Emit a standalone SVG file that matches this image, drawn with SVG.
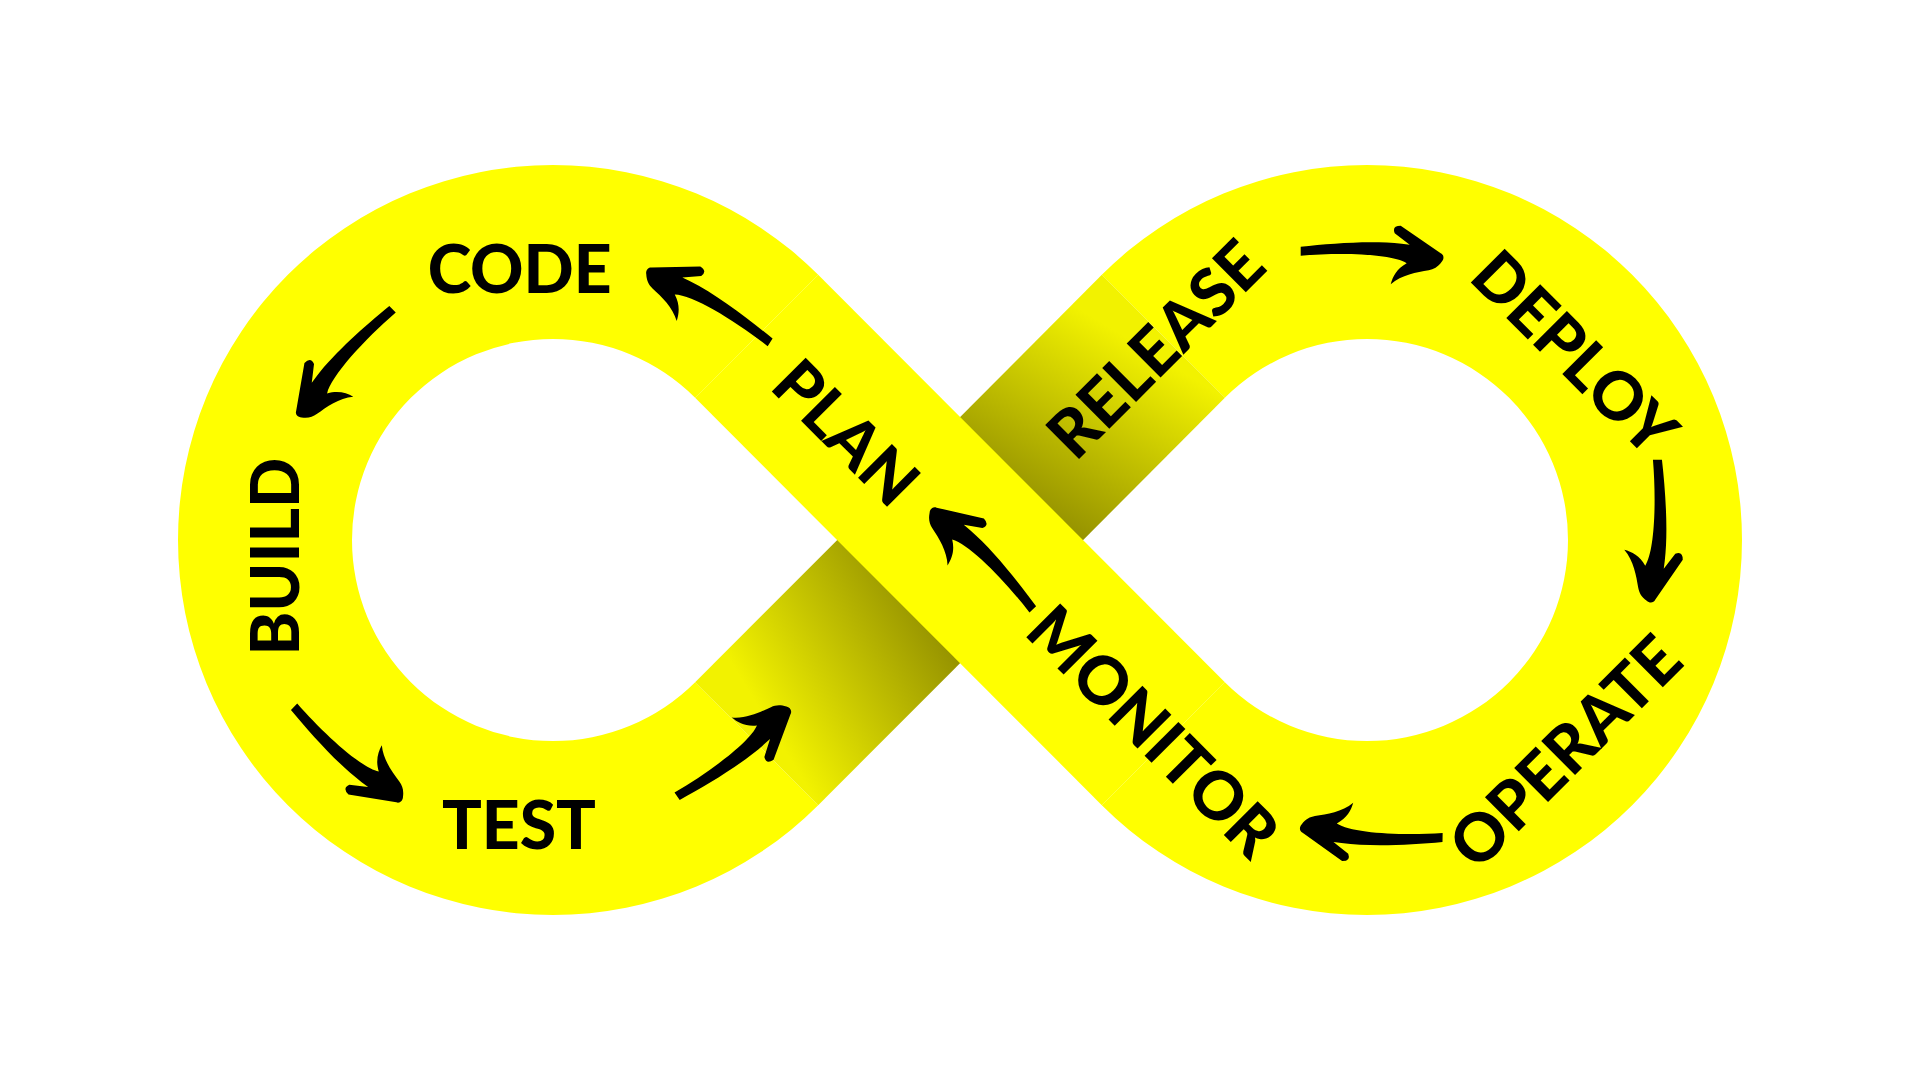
<svg xmlns="http://www.w3.org/2000/svg" xmlns:xlink="http://www.w3.org/1999/xlink" width="1920" height="1080" viewBox="0 0 1920 1080">
<style>
.lbl{font-family:Lato,"Liberation Sans",sans-serif;font-weight:900;font-size:66px;fill:#000;text-anchor:middle}
.band{fill:#ffff00}
.arrow{fill:#000}
</style>
<defs>
<linearGradient id="shadeLL" gradientUnits="userSpaceOnUse" x1="956.7" y1="663.3" x2="792.4" y2="763.3">
<stop offset="0" stop-color="#979400"/>
<stop offset="1" stop-color="#f2f200"/>
</linearGradient>
<linearGradient id="shadeUR" gradientUnits="userSpaceOnUse" x1="1083.3" y1="536.7" x2="1183.3" y2="372.4">
<stop offset="0" stop-color="#979400"/>
<stop offset="1" stop-color="#f2f200"/>
</linearGradient>
<path id="arr" d="M -141,-10 C -110,-13.5 -70,-16.5 -40,-13 L -32,-12 L -47,-23.5 Q -50,-31 -41,-31 L -1,-3.5 C 2.5,-2 2.5,2.5 0,5 C -4,10.5 -8,12.5 -13,13.5 C -25,15.5 -40,18 -51,27.5 C -49,20 -45,12 -35,6.5 C -50,-3 -100,-4.5 -141,-1 Z"/>
</defs>
<rect width="1920" height="1080" fill="#ffffff"/>
<g id="infinity">
<path class="band" d="M 818.17,274.83 A 375 375 0 1 0 818.17,805.17 L 695.13,682.13 A 201 201 0 1 1 695.13,397.87 Z"/>
<path class="band" d="M 1101.83,274.83 A 375 375 0 1 1 1101.83,805.17 L 1224.87,682.13 A 201 201 0 1 0 1224.87,397.87 Z"/>
<path fill="url(#shadeLL)" d="M 695.13,682.13 L 898.63,478.63 L 1021.67,601.67 L 818.17,805.17 Z"/>
<path fill="url(#shadeUR)" d="M 1101.83,274.83 L 1224.87,397.87 L 1021.67,601.67 L 898.63,478.63 Z"/>
<path class="band" d="M 818.17,274.83 L 1224.87,682.13 L 1101.83,805.17 L 695.13,397.87 Z"/>
</g>
<g id="connectors" class="arrow">
<use xlink:href="#arr" href="#arr" transform="translate(649,270) rotate(-146.9) scale(1,-1)"/>
<use xlink:href="#arr" href="#arr" transform="translate(298,414) rotate(134.3) scale(1,-1)"/>
<use xlink:href="#arr" href="#arr" transform="translate(399.5,800.5) rotate(43.9) scale(1,-1)"/>
<use xlink:href="#arr" href="#arr" transform="translate(789.3,710.7) rotate(-35.1) scale(1,-1)"/>
<use xlink:href="#arr" href="#arr" transform="translate(933.3,509.3) rotate(-132.6) scale(1,-1)"/>
<use xlink:href="#arr" href="#arr" transform="translate(1441.7,256.7)"/>
<use xlink:href="#arr" href="#arr" transform="translate(1651.7,600.7) rotate(90.1)"/>
<use xlink:href="#arr" href="#arr" transform="translate(1301.7,829.3) rotate(-178.9)"/>
</g>
<g id="node-plan"><text class="lbl" transform="translate(829.4,449.2) rotate(45)">PLAN</text></g>
<g id="node-code"><text class="lbl" x="519.7" y="293.3">CODE</text></g>
<g id="node-build"><text class="lbl" transform="translate(299.3,556.7) rotate(-90)">BUILD</text></g>
<g id="node-test"><text class="lbl" x="519" y="849.3">TEST</text></g>
<g id="node-release"><text class="lbl" transform="translate(1172.2,365.8) rotate(-45)">RELEASE</text></g>
<g id="node-deploy"><text class="lbl" transform="translate(1558,369.6) rotate(45)">DEPLOY</text></g>
<g id="node-operate"><text class="lbl" transform="translate(1581.8,768.2) rotate(-45)">OPERATE</text></g>
<g id="node-monitor"><text class="lbl" transform="translate(1136.7,747.8) rotate(45)">MONITOR</text></g>
</svg>
